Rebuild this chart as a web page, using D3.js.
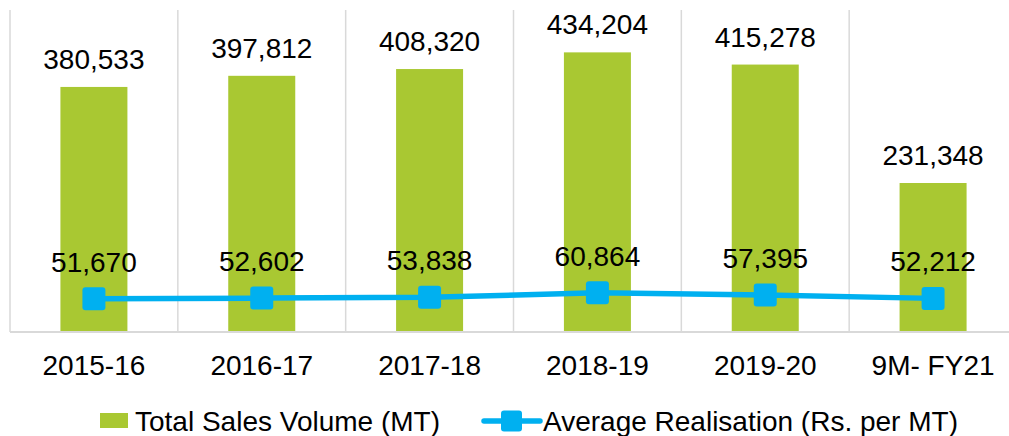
<!DOCTYPE html>
<html>
<head>
<meta charset="utf-8">
<script src="https://cdn.jsdelivr.net/npm/d3@7/dist/d3.min.js"></script>
<style>
  html, body { margin: 0; padding: 0; background: #fff; }
  svg { display: block; font-family: "Liberation Sans", Arial, sans-serif; }
</style>
</head>
<body>
<svg id="chart" width="1009" height="436"></svg>
<script>
const categories = ["2015-16", "2016-17", "2017-18", "2018-19", "2019-20", "9M- FY21"];
const salesVolume = [380533, 397812, 408320, 434204, 415278, 231348];
const avgRealisation = [51670, 52602, 53838, 60864, 57395, 52212];
const seriesNames = ["Total Sales Volume (MT)", "Average Realisation (Rs. per MT)"];

(function () {
const green = "#a9c832";
const blue = "#00b0f0";
const grid = "#d9d9d9";
const fontSize = 28;

const svg = d3.select("#chart");
const pLeft = 10, pRight = 1017, pTop = 10, pBottom = 332;

const x = d3.scaleBand().domain(categories).range([pLeft, pRight]).paddingInner(0).paddingOuter(0);
const y = d3.scaleLinear().domain([0, 500000]).range([pBottom, pTop]);
const fmt = d3.format(",");

// category separators
const bounds = d3.range(categories.length + 1).map(i => pLeft + i * x.bandwidth());
svg.append("g").selectAll("line").data(bounds).join("line")
  .attr("x1", d => d).attr("x2", d => d)
  .attr("y1", pTop).attr("y2", pBottom)
  .attr("stroke", grid).attr("stroke-width", 1.5);

// bars
const barW = 67;
svg.append("g").selectAll("rect").data(salesVolume).join("rect")
  .attr("x", (d, i) => x(categories[i]) + x.bandwidth() / 2 - barW / 2)
  .attr("y", d => y(d))
  .attr("width", barW)
  .attr("height", d => pBottom - y(d))
  .attr("fill", green);

// x axis baseline
svg.append("line").attr("x1", pLeft).attr("x2", pRight).attr("y1", pBottom).attr("y2", pBottom)
  .attr("stroke", grid).attr("stroke-width", 2);

// x axis labels
const xAxis = d3.axisBottom(x).tickSize(0).tickPadding(0);
const ax = svg.append("g").attr("transform", `translate(0,${pBottom})`).call(xAxis);
ax.select(".domain").remove();
ax.selectAll("text").attr("font-size", fontSize).attr("fill", "#000")
  .attr("font-family", "Liberation Sans, Arial, sans-serif")
  .attr("dy", null).attr("y", 43);

// bar labels
svg.append("g").selectAll("text").data(salesVolume).join("text")
  .attr("x", (d, i) => x(categories[i]) + x.bandwidth() / 2)
  .attr("y", d => y(d) - 18)
  .attr("text-anchor", "middle").attr("font-size", fontSize).attr("fill", "#000")
  .text(d => fmt(d));

// line
const cx = (d, i) => x(categories[i]) + x.bandwidth() / 2;
const line = d3.line().x((d, i) => cx(d, i)).y(d => y(d));
svg.append("path").datum(avgRealisation).attr("d", line)
  .attr("fill", "none").attr("stroke", blue).attr("stroke-width", 5.5);

const mk = 23;
svg.append("g").selectAll("rect").data(avgRealisation).join("rect")
  .attr("x", (d, i) => cx(d, i) - mk / 2)
  .attr("y", d => y(d) - mk / 2)
  .attr("width", mk).attr("height", mk).attr("rx", 3).attr("ry", 3)
  .attr("fill", blue);

// line labels
svg.append("g").selectAll("text").data(avgRealisation).join("text")
  .attr("x", (d, i) => cx(d, i))
  .attr("y", d => y(d) - 27)
  .attr("text-anchor", "middle").attr("font-size", fontSize).attr("fill", "#000")
  .text(d => fmt(d));

// legend
const lg = svg.append("g");
lg.append("rect").attr("x", 100).attr("y", 413).attr("width", 28).attr("height", 15).attr("fill", green);
lg.append("text").attr("x", 135).attr("y", 431).attr("font-size", fontSize).attr("fill", "#000").text(seriesNames[0]);
lg.append("line").attr("x1", 484).attr("x2", 540).attr("y1", 421).attr("y2", 421)
  .attr("stroke", blue).attr("stroke-width", 5.5).attr("stroke-linecap", "round");
lg.append("rect").attr("x", 501).attr("y", 410.5).attr("width", 21).attr("height", 21).attr("rx", 3).attr("fill", blue);
lg.append("text").attr("x", 543).attr("y", 431).attr("font-size", fontSize).attr("fill", "#000").text(seriesNames[1]);
})();
</script>
</body>
</html>
